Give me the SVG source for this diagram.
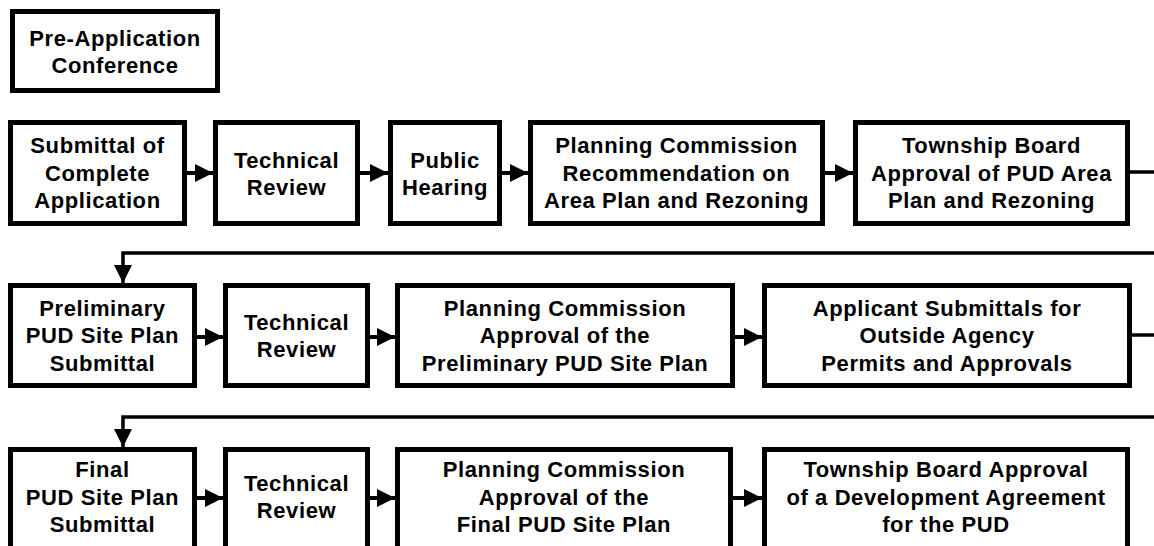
<svg xmlns="http://www.w3.org/2000/svg" width="1154" height="546" viewBox="0 0 1154 546">
<defs>
<style>
.box{fill:#fff;stroke:#000;stroke-width:5}
.t{font-family:"Liberation Sans",Arial,sans-serif;font-weight:bold;font-size:22px;letter-spacing:0.6px;text-anchor:middle;fill:#000}
.c{fill:none;stroke:#000;stroke-width:4}
.r{fill:none;stroke:#000;stroke-width:3.5}
</style>
<marker id="ah" markerUnits="userSpaceOnUse" markerWidth="19" markerHeight="19" refX="18" refY="9" orient="auto" viewBox="0 0 19 19">
<path d="M0,0 L18,9 L0,18 Z" fill="#000"/>
</marker>
</defs>
<rect width="1154" height="546" fill="#fff"/>

<g id="connectors">
<line class="c" x1="187" y1="173" x2="213" y2="173" marker-end="url(#ah)"/>
<line class="c" x1="360" y1="173" x2="388" y2="173" marker-end="url(#ah)"/>
<line class="c" x1="502" y1="173" x2="528" y2="173" marker-end="url(#ah)"/>
<line class="c" x1="825" y1="173" x2="853" y2="173" marker-end="url(#ah)"/>
<line class="r" x1="1130" y1="172" x2="1154" y2="172"/>
<polyline class="r" points="1154,253 123,253 123,283" marker-end="url(#ah)"/>
<line class="c" x1="197" y1="337" x2="223" y2="337" marker-end="url(#ah)"/>
<line class="c" x1="370" y1="337" x2="395" y2="337" marker-end="url(#ah)"/>
<line class="c" x1="735" y1="337" x2="762" y2="337" marker-end="url(#ah)"/>
<line class="r" x1="1132" y1="335" x2="1154" y2="335"/>
<polyline class="r" points="1154,417 123,417 123,447" marker-end="url(#ah)"/>
<line class="c" x1="197" y1="498" x2="223" y2="498" marker-end="url(#ah)"/>
<line class="c" x1="370" y1="498" x2="395" y2="498" marker-end="url(#ah)"/>
<line class="c" x1="733" y1="498" x2="762" y2="498" marker-end="url(#ah)"/>
</g>

<g id="pre-app">
<rect class="box" x="12.5" y="11.5" width="205" height="79"/>
<text class="t" x="115" y="46">Pre-Application</text>
<text class="t" x="115" y="73">Conference</text>
</g>

<g id="submittal">
<rect class="box" x="10.5" y="122.5" width="174" height="101"/>
<text class="t" x="97.5" y="153">Submittal of</text>
<text class="t" x="97.5" y="180.5">Complete</text>
<text class="t" x="97.5" y="208">Application</text>
</g>
<g id="tech-review-1">
<rect class="box" x="215.5" y="122.5" width="142" height="101"/>
<text class="t" x="286.5" y="167.5">Technical</text>
<text class="t" x="286.5" y="194.5">Review</text>
</g>
<g id="public-hearing">
<rect class="box" x="390.5" y="122.5" width="109" height="101"/>
<text class="t" x="445" y="167.5">Public</text>
<text class="t" x="445" y="194.5">Hearing</text>
</g>
<g id="pc-recommendation">
<rect class="box" x="530.5" y="122.5" width="292" height="101"/>
<text class="t" x="676.5" y="153">Planning Commission</text>
<text class="t" x="676.5" y="180.5">Recommendation on</text>
<text class="t" x="676.5" y="208">Area Plan and Rezoning</text>
</g>
<g id="tb-approval-area">
<rect class="box" x="855.5" y="122.5" width="272" height="101"/>
<text class="t" x="991.5" y="153">Township Board</text>
<text class="t" x="991.5" y="180.5">Approval of PUD Area</text>
<text class="t" x="991.5" y="208">Plan and Rezoning</text>
</g>

<g id="prelim-submittal">
<rect class="box" x="10.5" y="285.5" width="184" height="100"/>
<text class="t" x="102.5" y="315.5">Preliminary</text>
<text class="t" x="102.5" y="343">PUD Site Plan</text>
<text class="t" x="102.5" y="370.5">Submittal</text>
</g>
<g id="tech-review-2">
<rect class="box" x="225.5" y="285.5" width="142" height="100"/>
<text class="t" x="296.5" y="329.5">Technical</text>
<text class="t" x="296.5" y="356.5">Review</text>
</g>
<g id="pc-prelim">
<rect class="box" x="397.5" y="285.5" width="335" height="100"/>
<text class="t" x="565" y="315.5">Planning Commission</text>
<text class="t" x="565" y="343">Approval of the</text>
<text class="t" x="565" y="370.5">Preliminary PUD Site Plan</text>
</g>
<g id="outside-agency">
<rect class="box" x="764.5" y="285.5" width="365" height="100"/>
<text class="t" x="947" y="315.5">Applicant Submittals for</text>
<text class="t" x="947" y="343">Outside Agency</text>
<text class="t" x="947" y="370.5">Permits and Approvals</text>
</g>

<g id="final-submittal">
<rect class="box" x="10.5" y="449.5" width="184" height="103"/>
<text class="t" x="102.5" y="477">Final</text>
<text class="t" x="102.5" y="504.5">PUD Site Plan</text>
<text class="t" x="102.5" y="532">Submittal</text>
</g>
<g id="tech-review-3">
<rect class="box" x="225.5" y="449.5" width="142" height="103"/>
<text class="t" x="296.5" y="491">Technical</text>
<text class="t" x="296.5" y="518">Review</text>
</g>
<g id="pc-final">
<rect class="box" x="397.5" y="449.5" width="333" height="103"/>
<text class="t" x="564" y="477">Planning Commission</text>
<text class="t" x="564" y="504.5">Approval of the</text>
<text class="t" x="564" y="532">Final PUD Site Plan</text>
</g>
<g id="tb-dev-agreement">
<rect class="box" x="764.5" y="449.5" width="363" height="103"/>
<text class="t" x="946" y="477">Township Board Approval</text>
<text class="t" x="946" y="504.5">of a Development Agreement</text>
<text class="t" x="946" y="532">for the PUD</text>
</g>
</svg>
